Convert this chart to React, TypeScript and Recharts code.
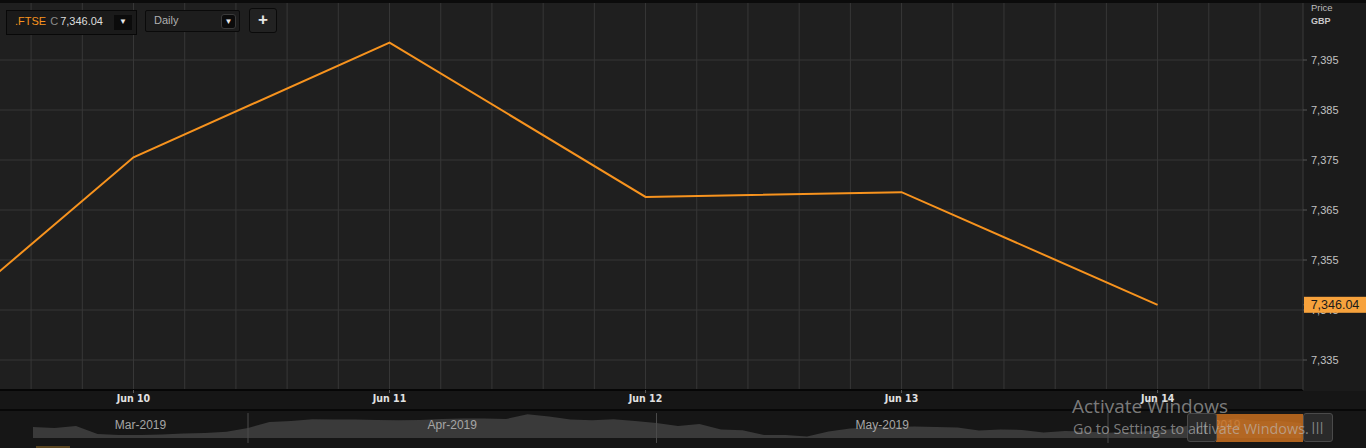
import React from 'react';
import { LineChart, Line, XAxis, YAxis, CartesianGrid, AreaChart, Area, ReferenceLine } from 'recharts';

// ---- main chart data ----
const dayLabels = ['Jun 7', 'Jun 10', 'Jun 11', 'Jun 12', 'Jun 13', 'Jun 14'];
const closeValues = [7331.94, 7375.54, 7398.49, 7367.62, 7368.57, 7346.04];
const priceTicks = [7335, 7345, 7355, 7365, 7375, 7385, 7395];
const lastPrice = 7346.04;
const instrument = '.FTSE';
const interval = 'Daily';
const currency = 'GBP';

// ---- navigator (overview) data: daily closes Mar 18 .. Jun 14 ----
const navValues = [
  7299, 7287, 7311, 7216, 7205, 7205, 7210, 7222, 7228, 7244,
  7287, 7358, 7370, 7390, 7388, 7388, 7382, 7378, 7382, 7393,
  7399, 7399, 7393, 7449, 7423, 7388, 7378, 7390, 7370, 7346,
  7311, 7334, 7270, 7260, 7205, 7205, 7187, 7246, 7281, 7293,
  7299, 7305, 7299, 7293, 7258, 7270, 7264, 7234, 7252, 7246,
  7232, 7240, 7252, 7275, 7332, 7376, 7398, 7368, 7369, 7346,
];
const monthLabels = ['Mar-2019', 'Apr-2019', 'May-2019', 'Jun-2019'];
const monthStarts = [0, 10, 29, 50];

const mainData = closeValues.map((v, i) => ({ idx: i, close: v }));
const navData = navValues.map((v, i) => ({ idx: i, v }));
const monthMid = monthStarts.map((s, i) => (s + (i + 1 < monthStarts.length ? monthStarts[i + 1] : navValues.length)) / 2);

const gridValues: number[] = [];
for (let k = 3; k <= 27; k++) gridValues.push(Math.round(k * 2) / 10);

const fmt = (v: number) => v.toLocaleString('en-US', { maximumFractionDigits: 0 });
const fmt2 = (v: number) => v.toLocaleString('en-US', { minimumFractionDigits: 2, maximumFractionDigits: 2 });

const ORANGE = '#f7931e';
const SANS = '"Liberation Sans", Arial, sans-serif';
const NARROW = '"Liberation Sans Narrow", "DejaVu Sans Condensed", "Liberation Sans", sans-serif';

const YTick = (props: any) => {
  const { x, y, payload } = props;
  if (payload.value === lastPrice) {
    return (
      <g>
        <rect x={x - 7} y={y - 8} width={62} height={16} fill="#f7a23c" />
        <text x={x + 24} y={y} dy="0.36em" textAnchor="middle" fontSize={12.5} fontFamily={SANS} fill="#1a1a1a">
          {fmt2(payload.value)}
        </text>
      </g>
    );
  }
  return (
    <text x={x} y={y} dy="0.355em" textAnchor="start" fontSize={11} fontFamily={SANS} fill="#c2c2c2">
      {fmt(payload.value)}
    </text>
  );
};

const MonthLabel = (props: any) => {
  const { viewBox, text } = props;
  if (!viewBox) return null;
  return (
    <text x={viewBox.x} y={viewBox.y + viewBox.height - 9} textAnchor="middle" fontSize={12} fontFamily={SANS} fill="#a6a6a6">
      {text}
    </text>
  );
};

const Arrow = ({ left, top, w, h, radius }: any) => (
  <div style={{ position: 'absolute', left, top, width: w, height: h, background: '#0b0b0b', borderRadius: radius, border: radius ? '1px solid #3a3a3a' : 'none', boxSizing: 'border-box', color: '#e8e8e8', fontSize: 8, lineHeight: h - 2 + 'px', textAlign: 'center' }}>▼</div>
);

const Grip = ({ left }: any) => (
  <div style={{ position: 'absolute', left, top: 413, width: 30, height: 29, background: '#2a2a2a', border: '1px solid #4a4a4a', borderRadius: 3, boxSizing: 'border-box', color: '#8a8a8a', fontSize: 12, lineHeight: '27px', textAlign: 'center', fontFamily: SANS, letterSpacing: 1 }}>|||</div>
);

export default function App() {
  return (
    <div style={{ position: 'absolute', left: 0, top: 0, width: 1366, height: 448, background: '#161616', overflow: 'hidden', fontFamily: SANS }}>
      <div style={{ position: 'absolute', left: 0, top: 0, width: 1366, height: 391, background: '#1b1b1b' }} />
      <div style={{ position: 'absolute', left: 0, top: 0, width: 1366, height: 3, background: '#0b0b0b' }} />
      <div style={{ position: 'absolute', left: 0, top: 409, width: 1366, height: 2, background: '#080808' }} />

      <div style={{ position: 'absolute', left: 0, top: 0 }}>
        <LineChart width={1366} height={410} data={mainData} margin={{ top: 3, right: 0, bottom: 0, left: 0 }}>
          <CartesianGrid stroke="#373737" fill="#1f1f1f" verticalValues={gridValues} horizontalValues={priceTicks} />
          <XAxis
            dataKey="idx"
            type="number"
            domain={[0.4785, 5.568]}
            allowDataOverflow
            ticks={[1, 2, 3, 4, 5]}
            interval={0}
            tickFormatter={(v: number) => dayLabels[v]}
            height={20}
            tickSize={3}
            tickMargin={2}
            tickLine={{ stroke: '#5a5a5a' }}
            axisLine={{ stroke: '#060606', strokeWidth: 2 }}
            tick={{ fill: '#e2e2e2', fontSize: 10.5, fontWeight: 700, fontFamily: NARROW }}
          />
          <YAxis
            orientation="right"
            width={63}
            type="number"
            domain={[7329, 7406.4]}
            allowDataOverflow
            ticks={[...priceTicks, lastPrice]}
            interval={0}
            tickSize={4}
            tickMargin={4}
            tickLine={{ stroke: '#555' }}
            axisLine={{ stroke: '#3a3a3a' }}
            tick={<YTick />}
          />
          <Line type="linear" dataKey="close" stroke={ORANGE} strokeWidth={2} dot={false} activeDot={false} isAnimationActive={false} />
        </LineChart>
      </div>

      <div style={{ position: 'absolute', left: 1311, top: 2, fontSize: 9.5, color: '#bdbdbd' }}>Price</div>
      <div style={{ position: 'absolute', left: 1311, top: 16, fontSize: 9, fontWeight: 700, color: '#c8c8c8' }}>{currency}</div>

      {/* toolbar */}
      <div style={{ position: 'absolute', left: 6, top: 10, width: 131, height: 25, background: '#1a1a1a', border: '1px solid #080808', boxSizing: 'border-box' }} />
      <div style={{ position: 'absolute', left: 15, top: 15, fontSize: 11, whiteSpace: 'nowrap' }}>
        <span style={{ color: ORANGE }}>{instrument}</span>
        <span style={{ color: '#8c8c8c', marginLeft: 4 }}>C</span>
        <span style={{ color: '#dcdcdc', marginLeft: 2 }}>{fmt2(lastPrice)}</span>
      </div>
      <Arrow left={114} top={15} w={18} h={15} radius={0} />

      <div style={{ position: 'absolute', left: 145, top: 10, width: 95, height: 22, background: '#1d1d1d', border: '1px solid #0a0a0a', borderRadius: 2, boxSizing: 'border-box' }} />
      <div style={{ position: 'absolute', left: 154, top: 14, fontSize: 11, color: '#b0b0b0' }}>{interval}</div>
      <Arrow left={221} top={14} w={15} h={15} radius={3} />

      <div style={{ position: 'absolute', left: 249, top: 8, width: 28, height: 25, background: '#222', border: '1px solid #0a0a0a', borderRadius: 3, boxSizing: 'border-box', color: '#e6e6e6', fontSize: 17, fontWeight: 700, lineHeight: '21px', textAlign: 'center' }}>+</div>

      {/* navigator */}
      <div style={{ position: 'absolute', left: 0, top: 405 }}>
        <AreaChart width={1366} height={40} data={navData} margin={{ top: 6, right: 64.5, bottom: 7, left: 33 }}>
          <XAxis dataKey="idx" type="number" domain={[0, 59]} allowDataOverflow hide />
          <YAxis hide type="number" domain={[7169, 7488]} allowDataOverflow />
          <Area type="linear" dataKey="v" stroke="none" fill="#3a3a3a" fillOpacity={1} isAnimationActive={false} />
          {monthStarts.slice(1).map((m) => (
            <ReferenceLine
              key={'s' + m}
              ifOverflow="visible"
              segment={[{ x: m, y: 7110 }, { x: m, y: 7464 }]}
              stroke="#4a4a4a"
            />
          ))}
          {monthMid.map((m, i) => (
            <ReferenceLine
              key={'m' + i}
              x={m}
              ifOverflow="visible"
              stroke="none"
              label={<MonthLabel text={monthLabels[i]} />}
            />
          ))}
        </AreaChart>
      </div>

      <div style={{ position: 'absolute', left: 36, top: 446, width: 34, height: 2, background: '#5a4520' }} />

      {/* scroll handle */}
      <div style={{ position: 'absolute', left: 1216, top: 414, width: 87, height: 28, background: 'rgba(206,113,30,0.82)' }} />
      <Grip left={1187} />
      <Grip left={1303} />

      {/* OS watermark */}
      <div style={{ position: 'absolute', left: 1072, top: 393, fontSize: 19, color: 'rgba(190,190,190,0.62)', fontFamily: '"Open Sans", "Noto Sans", sans-serif', whiteSpace: 'nowrap' }}>Activate Windows</div>
      <div style={{ position: 'absolute', left: 1073, top: 419, fontSize: 14.4, color: 'rgba(190,190,190,0.62)', fontFamily: '"Open Sans", "Noto Sans", sans-serif', whiteSpace: 'nowrap' }}>Go to Settings to activate Windows.</div>
    </div>
  );
}
